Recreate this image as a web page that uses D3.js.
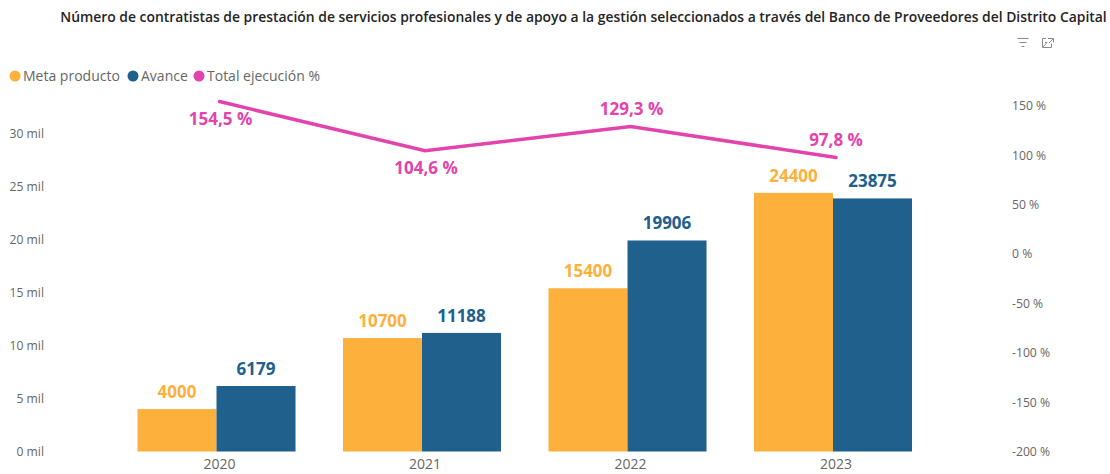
<!DOCTYPE html>
<html>
<head>
<meta charset="utf-8">
<script src="https://cdn.jsdelivr.net/npm/d3@7"></script>
<style>
  html, body { margin: 0; padding: 0; background: #fff; }
  text { font-family: "Open Sans", "Noto Sans", sans-serif; }
</style>
</head>
<body>
<svg id="chart" width="1110" height="474"></svg>
<script>
//
// DATA
//
const years = ['2020', '2021', '2022', '2023']
const metaProducto = [4000, 10700, 15400, 24400]
const avance = [6179, 11188, 19906, 23875]
const ejecucion = [154.5, 104.6, 129.3, 97.8]
const leftTicks = [0, 5000, 10000, 15000, 20000, 25000, 30000]
const rightTicks = [-200, -150, -100, -50, 0, 50, 100, 150]
const legendNames = ['Meta producto', 'Avance', 'Total ejecución %']
const title = 'Número de contratistas de prestación de servicios profesionales y de apoyo a la gestión seleccionados a través del Banco de Proveedores del Distrito Capital'

//
// GLOBALS
//
const orange = '#FDB03C'
const blue = '#20608C'
const pink = '#E344AC'
const grey = '#666666'
// the line and the year labels sit a little right of the bar groups in the reference
const lineShift = 3

const svg = d3.select('#chart')

const x = d3.scaleBand().domain(years).range([113.75, 935.75]).paddingInner(0.231).paddingOuter(0.1155)
const xSeries = d3.scaleBand().domain([0, 1]).range([0, x.bandwidth()])
const yLeft = d3.scaleLinear().domain([0, 30000]).range([451.5, 133.5])
const yRight = d3.scaleLinear().domain([-200, 150]).range([451.5, 106])

// title
svg.append('text')
    .attr('x', 583.5).attr('y', 22)
    .attr('text-anchor', 'middle')
    .attr('font-size', 13.9).attr('font-weight', 600).attr('fill', '#252423')
    .text(title)

// filter + expand icons
const icons = svg.append('g').attr('fill', 'none').attr('stroke', '#8a8a8a').attr('stroke-width', 1)
icons.append('path').attr('d', 'M1017.5 38.5h11M1019.5 42.5h7M1021.5 46.5h3')
icons.append('path').attr('d', 'M1046 38.5h-3.5v9h9v-4M1043 47l4-4.5h-2M1048 38.5h5.5v4M1053 39l-4 4')

// legend
const legendX = [15, 133, 199]
const legendColors = [orange, blue, pink]
const legend = svg.append('g').selectAll('g').data(legendNames).join('g')
    .attr('transform', (d, i) => `translate(${legendX[i]},76)`)
legend.append('circle').attr('r', 5.5).attr('fill', (d, i) => legendColors[i])
legend.append('text').attr('x', 8).attr('y', 5)
    .attr('font-size', 14).attr('fill', grey).text(d => d)

// axes, no lines, labels only
const axisLeft = svg.append('g').attr('transform', 'translate(44,0)')
    .call(d3.axisLeft(yLeft).tickValues(leftTicks).tickSize(0).tickPadding(0).tickFormat(d => `${d / 1000} mil`))
const axisRight = svg.append('g').attr('transform', 'translate(1012,0)')
    .call(d3.axisRight(yRight).tickValues(rightTicks).tickSize(0).tickPadding(0).tickFormat(d => `${d} %`))
const axisBottom = svg.append('g').attr('transform', `translate(${lineShift},451.5)`)
    .call(d3.axisBottom(x).tickSize(0).tickPadding(8))
;[axisLeft, axisRight, axisBottom].forEach(a => {
    a.select('.domain').remove()
    a.selectAll('text').attr('fill', grey).attr('font-size', 12.2)
        .style('font-family', '"Open Sans", "Noto Sans", sans-serif')
})
axisBottom.selectAll('text').attr('font-size', 14)

// bars and their labels
const plotSeries = (values, idx, color) => {
    const g = svg.append('g')
    g.selectAll('rect').data(values).join('rect')
        .attr('x', (d, i) => x(years[i]) + xSeries(idx))
        .attr('y', d => yLeft(d))
        .attr('width', xSeries.bandwidth())
        .attr('height', d => yLeft(0) - yLeft(d))
        .attr('fill', color)
    g.selectAll('text').data(values).join('text')
        .attr('x', (d, i) => x(years[i]) + xSeries(idx) + xSeries.bandwidth() / 2)
        .attr('y', d => yLeft(d) - 11)
        .attr('text-anchor', 'middle')
        .attr('font-size', 17).attr('font-weight', 700).attr('fill', color)
        .text(d => d)
}
plotSeries(metaProducto, 0, orange)
plotSeries(avance, 1, blue)

// line
const cx = d => x(d) + x.bandwidth() / 2 + lineShift
const line = d3.line().x((d, i) => cx(years[i])).y(d => yRight(d))
svg.append('path').datum(ejecucion)
    .attr('d', line)
    .attr('fill', 'none').attr('stroke', pink).attr('stroke-width', 3.5).attr('stroke-linecap', 'round')

// line labels: Power BI puts some above and some below
const labelDy = [23, 23, -11, -12]
const labelDx = [1, 1, 1, 0]
svg.append('g').selectAll('text').data(ejecucion).join('text')
    .attr('x', (d, i) => cx(years[i]) + labelDx[i])
    .attr('y', (d, i) => yRight(d) + labelDy[i])
    .attr('text-anchor', 'middle')
    .attr('font-size', 17).attr('font-weight', 700).attr('fill', pink)
    .text(d => `${String(d).replace('.', ',')} %`)
</script>
</body>
</html>
